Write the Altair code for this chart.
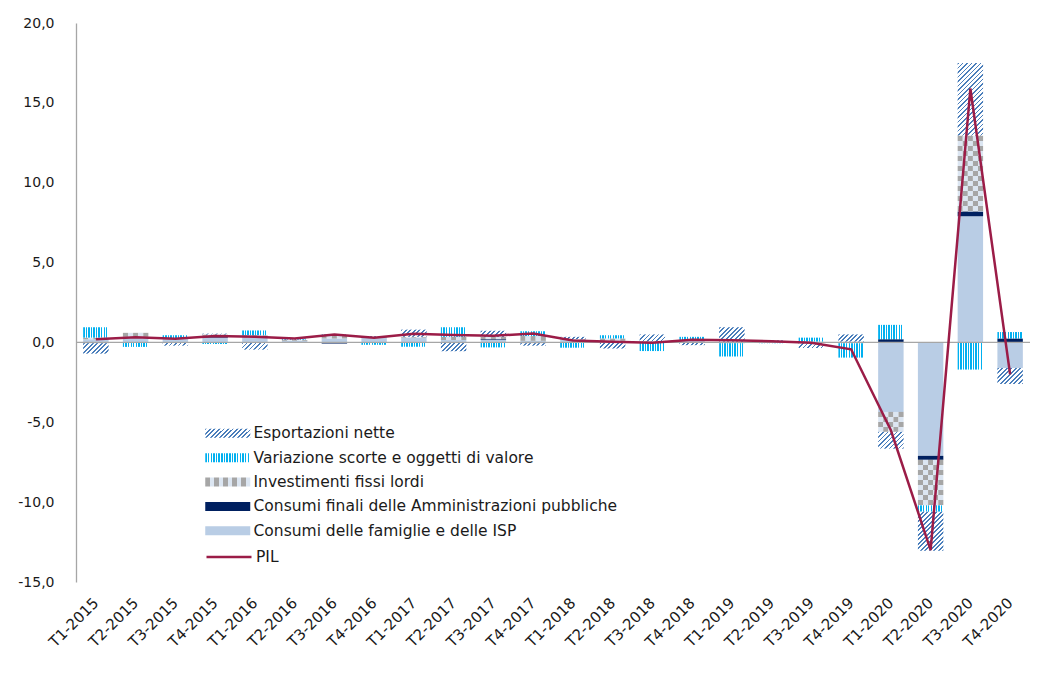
import altair as alt
import pandas as pd

# ---- data: contributions to quarterly GDP growth (percentage points) ----
trimestri = [
    "T1-2015", "T2-2015", "T3-2015", "T4-2015",
    "T1-2016", "T2-2016", "T3-2016", "T4-2016",
    "T1-2017", "T2-2017", "T3-2017", "T4-2017",
    "T1-2018", "T2-2018", "T3-2018", "T4-2018",
    "T1-2019", "T2-2019", "T3-2019", "T4-2019",
    "T1-2020", "T2-2020", "T3-2020", "T4-2020",
]
consumi_famiglie = [0.20, 0.35, 0.22, 0.30, 0.30, 0.10, 0.25, 0.30, 0.30, 0.15, 0.15, 0.10,
                    0.15, 0.10, 0.05, 0.10, 0.05, 0.03, 0.05, 0.05, -4.35, -7.10, 7.90, -1.60]
consumi_pa = [-0.05, 0.00, 0.00, 0.10, 0.00, 0.00, -0.07, 0.00, 0.00, 0.00, 0.05, -0.05,
              0.00, 0.00, 0.00, 0.00, -0.05, 0.00, 0.00, 0.00, 0.20, -0.25, 0.30, 0.25]
investimenti = [0.10, 0.25, 0.05, 0.10, 0.15, 0.05, 0.15, 0.05, 0.05, 0.20, 0.15, 0.30,
                0.05, 0.15, 0.00, 0.05, 0.00, 0.05, 0.00, -0.05, -1.25, -2.85, 4.75, 0.00]
scorte = [0.65, -0.28, 0.18, -0.10, 0.30, 0.05, 0.10, -0.15, -0.27, 0.60, -0.31, 0.30,
          -0.33, 0.20, -0.54, 0.20, -0.83, -0.05, 0.25, -0.90, 0.90, -0.40, -1.70, 0.40]
esportazioni = [-0.65, 0.00, -0.20, 0.05, -0.45, 0.05, 0.00, 0.05, 0.45, -0.55, 0.38, -0.15,
                0.15, -0.38, 0.45, -0.17, 0.90, 0.05, -0.35, 0.45, -1.05, -2.45, 4.55, -1.00]
pil = [0.20, 0.33, 0.23, 0.40, 0.35, 0.25, 0.50, 0.30, 0.54, 0.46, 0.42, 0.56,
       0.12, 0.04, -0.02, 0.17, 0.13, 0.08, -0.02, -0.43, -5.50, -13.00, 15.90, -2.00]

# stacking order, from the zero line outwards
serie = [
    "Consumi delle famiglie e delle ISP",
    "Consumi finali delle Amministrazioni pubbliche",
    "Investimenti fissi lordi",
    "Variazione scorte e oggetti di valore",
    "Esportazioni nette",
]
valori = [consumi_famiglie, consumi_pa, investimenti, scorte, esportazioni]

rows = []
for ordine, (nome, vals) in enumerate(zip(serie, valori)):
    for t, v in zip(trimestri, vals):
        rows.append({"trimestre": t, "serie": nome, "valore": v, "ordine": ordine})
df = pd.DataFrame(rows)
df_pil = pd.DataFrame({"trimestre": trimestri, "PIL": pil})

# ---- styling ----
FONT = "DejaVu Sans"
FS_Y = 14
FS_X = 15
FS_LEG = 15.5
TXT = "#1a1a1a"
C_FAM = "#B9CDE5"
C_PA = "#002060"
C_GRAY = "#A6A6A6"
C_LIGHT = "#DCE6F2"
C_CYAN = "#00B0F0"
C_HATCH = "#4A7EBB"
C_PIL = "#9B1C47"


def stripe_stops(c1, c2, n, frac=0.5):
    """Hard-edged alternating stops: n periods of c1 then c2."""
    out = []
    for j in range(n):
        a, m, b = j / n, (j + frac) / n, (j + 1) / n
        out += [(a, c1), (m, c1), (m, c2), (b, c2)]
    return out


def stops_js(stops):
    return "[" + ",".join(f"{{offset:{o:.5f},color:'{c}'}}" for o, c in stops) + "]"


def stops_obj(stops):
    return [{"offset": round(o, 5), "color": c} for o, c in stops]


# bar pixel size inside an encode expression
H = "max(abs(scale('y', datum.y1) - scale('y', datum.y0)), 0.5)"
W = "bandwidth('x')"
D = f"({W}*{W}+{H}*{H})"

# diagonal "/" hatch with a constant pixel period
HATCH_P, HATCH_N = 4.5, 40
hatch_expr = (
    f"{{gradient:'linear',x1:0,y1:0,x2:{W}*{HATCH_P * HATCH_N}/{D},"
    f"y2:{H}*{HATCH_P * HATCH_N}/{D},"
    f"stops:{stops_js(stripe_stops(C_HATCH, '#FFFFFF', HATCH_N, 0.42))}}}"
)

# checkerboard: horizontal bands, phase flipped on alternate sub-columns
CELL, CHK_N = 5.0, 14
chk_a = stops_js(stripe_stops(C_GRAY, C_LIGHT, CHK_N))
chk_b = stops_js(stripe_stops(C_LIGHT, C_GRAY, CHK_N))
checker_expr = (
    f"{{gradient:'linear',x1:0,y1:0,x2:0,y2:{2 * CELL * CHK_N}/{H},"
    f"stops:(datum.col % 2) ? {chk_b} : {chk_a}}}"
)

# vertical lines
vlines = {"gradient": "linear", "x1": 0, "y1": 0, "x2": 1, "y2": 0,
          "stops": stops_obj(stripe_stops(C_CYAN, "#FFFFFF", 10, 0.55))}

# legend swatches (45 x 9 px)
SW, SH = 45.0, 9.0
k_leg = 15 * 4.5 / (SW * SW + SH * SH)
leg_hatch = (f"{{gradient:'linear',x1:0,y1:0,x2:{SW * k_leg:.4f},y2:{SH * k_leg:.4f},"
             f"stops:{stops_js(stripe_stops(C_HATCH, '#FFFFFF', 15, 0.42))}}}")
leg_vlines = (f"{{gradient:'linear',x1:0,y1:0,x2:1,y2:0,"
              f"stops:{stops_js(stripe_stops(C_CYAN, '#FFFFFF', 17, 0.55))}}}")
leg_checker = (f"{{gradient:'linear',x1:0,y1:0,x2:1,y2:0,"
               f"stops:{stops_js(stripe_stops(C_GRAY, C_LIGHT, 5))}}}")

legend_order = list(reversed(serie))
legend_range = [{"expr": leg_hatch}, {"expr": leg_vlines}, {"expr": leg_checker}, C_PA, C_FAM]

# legend symbols: nominal size 15 px, drawn 45 px wide (left edge at -15)
SYM_SIZE = 225
SYM_RECT = "M-3,-0.6L3,-0.6L3,0.6L-3,0.6Z"
SYM_LINE = "M-3,0L3,0"
LEG_X = 144
LEG_Y = 402.5
ROW_PAD = 7.4

# ---- scales & axes ----
x_enc = alt.X(
    "trimestre:N",
    sort=trimestri,
    scale=alt.Scale(domain=trimestri, paddingInner=0.36, paddingOuter=0.18),
    axis=alt.Axis(
        title=None, domain=False, ticks=False, labelAngle=-45, labelAlign="right",
        labelBaseline="middle", labelPadding=18, labelFont=FONT, labelFontSize=FS_X,
        labelColor=TXT, labelOverlap=False,
    ),
)
y_scale = alt.Scale(domain=[-15, 20], nice=False, zero=False)
y_axis = alt.Axis(
    title=None, values=[-15, -10, -5, 0, 5, 10, 15, 20], grid=False, ticks=False,
    tickSize=0, domainColor=C_GRAY, domainWidth=1.3, labelPadding=22,
    labelFont=FONT, labelFontSize=FS_Y, labelColor=TXT,
    labelExpr="(datum.value < 0 ? '-' : '') + replace(format(abs(datum.value), '.1f'), '.', ',')",
)


def y_stack():
    return alt.Y("y0:Q", scale=y_scale, axis=y_axis, title=None)


base = alt.Chart(df).transform_stack(
    stack="valore",
    groupby=["trimestre"],
    as_=["y0", "y1"],
    sort=[alt.SortField("ordine", order="ascending")],
    offset="zero",
)


def only(nome):
    return base.transform_filter(alt.datum.serie == nome)


bar_fam = only(serie[0]).mark_bar(fill=C_FAM).encode(x=x_enc, y=y_stack(), y2="y1:Q")
bar_pa = only(serie[1]).mark_bar(fill=C_PA).encode(x=x_enc, y=y_stack(), y2="y1:Q")
bar_inv = (
    only(serie[2])
    .transform_calculate(col="sequence(0, 5)")
    .transform_flatten(["col"])
    .mark_bar(fill={"expr": checker_expr})
    .encode(
        x=x_enc,
        xOffset=alt.XOffset("col:O", scale=alt.Scale(paddingInner=0, paddingOuter=0)),
        y=y_stack(),
        y2="y1:Q",
    )
)
bar_sco = only(serie[3]).mark_bar(fill=vlines).encode(x=x_enc, y=y_stack(), y2="y1:Q")
bar_esp = only(serie[4]).mark_bar(fill={"expr": hatch_expr}).encode(x=x_enc, y=y_stack(), y2="y1:Q")

# legend carrier (draws nothing itself)
legenda = (
    alt.Chart(df)
    .transform_filter("false")
    .mark_bar()
    .encode(
        x=x_enc,
        y=y_stack(),
        color=alt.Color(
            "serie:N",
            scale=alt.Scale(domain=legend_order, range=legend_range),
            legend=alt.Legend(
                title=None, orient="none", legendX=LEG_X, legendY=LEG_Y,
                symbolType=SYM_RECT, symbolSize=SYM_SIZE,
                symbolStrokeWidth=0, labelFont=FONT, labelFontSize=FS_LEG,
                labelColor=TXT, labelOffset=18, labelLimit=600,
                rowPadding=ROW_PAD, padding=0,
            ),
        ),
    )
)

zero_line = (
    alt.Chart(pd.DataFrame({"zero": [0]}))
    .mark_rule(color=C_GRAY, strokeWidth=1.3)
    .encode(y=alt.Y("zero:Q", scale=y_scale, axis=y_axis, title=None))
)

linea = (
    alt.Chart(df_pil)
    .transform_calculate(nome="'PIL'")
    .mark_line(strokeWidth=2.5)
    .encode(
        x=x_enc,
        y=alt.Y("PIL:Q", scale=y_scale, axis=y_axis, title=None),
        stroke=alt.Stroke(
            "nome:N",
            scale=alt.Scale(domain=["PIL"], range=[C_PIL]),
            legend=alt.Legend(
                title=None, orient="none", legendX=LEG_X, legendY=LEG_Y + 5 * 24.5,
                symbolType=SYM_LINE, symbolSize=SYM_SIZE, symbolStrokeWidth=2.5,
                labelFont=FONT, labelFontSize=FS_LEG, labelColor=TXT,
                labelOffset=18, padding=0,
            ),
        ),
    )
)

chart = (
    alt.layer(bar_fam, bar_pa, bar_inv, bar_sco, bar_esp, legenda, zero_line, linea)
    .properties(
        width=954,
        height=559,
        padding={"left": 76, "top": 23, "right": 31, "bottom": 92},
        autosize=alt.AutoSizeParams(type="none"),
        background="white",
    )
    .configure_view(stroke=None)
)

chart.save("out.html", embed_options={"renderer": "svg", "actions": False})
